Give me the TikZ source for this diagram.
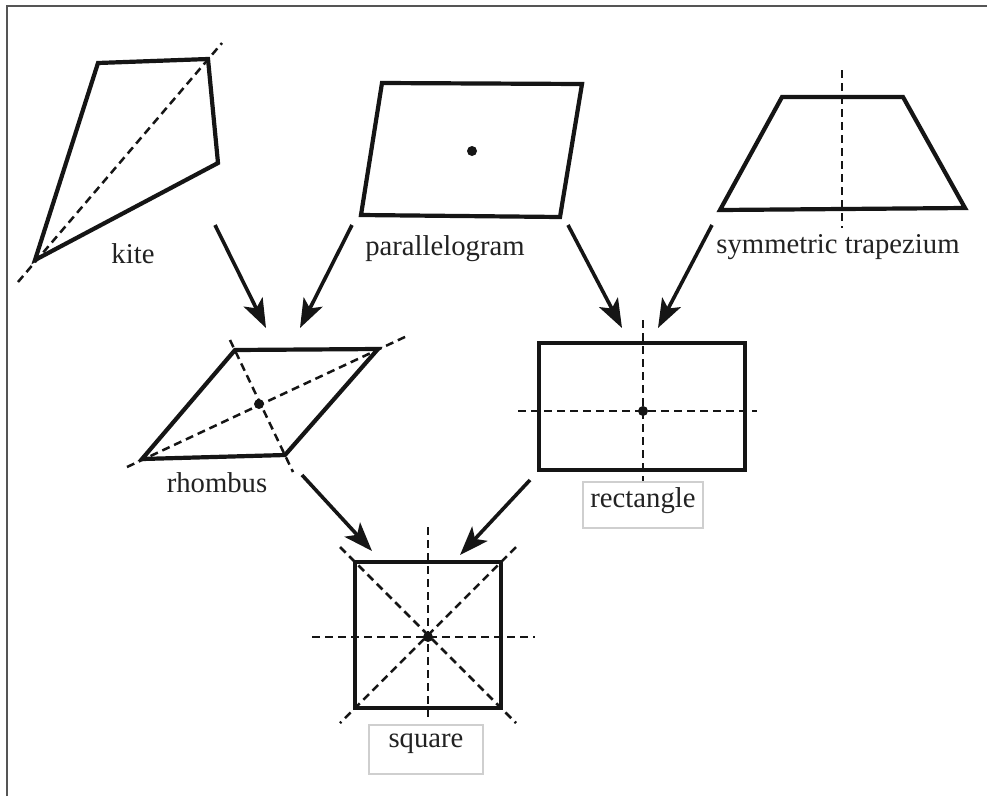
\documentclass[tikz,border=0pt]{standalone}
\usepackage{fontspec}
\setmainfont{Liberation Serif}
\usetikzlibrary{arrows.meta}
\definecolor{ink}{HTML}{151515}
\definecolor{txt}{HTML}{222222}
\definecolor{framegray}{HTML}{555555}
\definecolor{boxgray}{HTML}{CFCFCF}
\begin{document}
\begin{tikzpicture}[x=1pt,y=-1pt,
  figline/.style={line width=4.2pt, draw=ink, line join=miter},
  axisline/.style={line width=2.5pt, draw=ink, dash pattern=on 8pt off 5pt},
  conn/.style={line width=3.6pt, draw=ink, -{Stealth[length=29pt,width=21pt,inset=7pt]}},
  lbl/.style={font=\fontsize{28.7}{31}\selectfont, text=txt, inner sep=0pt, anchor=base},
  lblbox/.style={font=\fontsize{28.7}{31}\selectfont, text=txt, draw=boxgray, line width=1.5pt, inner sep=0pt},
  cdot/.style={circle, fill=ink, inner sep=0pt, minimum size=10pt}
]
\useasboundingbox (0,0) rectangle (987,796);
\fill[white] (0,0) rectangle (987,796);
% frame (left and top edges)
\draw[framegray, line width=2pt] (7,796) -- (7,6) -- (987,6);

% ---------- kite ----------
\draw[axisline] (18,282) -- (222,43);
\draw[figline] (98,63) -- (208,59) -- (218,163) -- (35,260) -- cycle;
\node[lbl] (kitelbl) at (133,263) {kite};

% ---------- parallelogram ----------
\draw[figline] (382,83) -- (582,84) -- (560,217) -- (361,215) -- cycle;
\node[cdot] (pdot) at (472,151) {};
\node[lbl] (paralbl) at (445,255) {parallelogram};

% ---------- symmetric trapezium ----------
\draw[axisline] (842,70) -- (842,228);
\draw[figline] (782,97) -- (903,97) -- (965,208) -- (720,210) -- cycle;
\node[lbl] (traplbl) at (838,253) {symmetric trapezium};

% ---------- rhombus ----------
\draw[axisline] (127,467) -- (407,336);
\draw[axisline] (230,340) -- (293,472);
\draw[figline] (235,350) -- (378,349) -- (285,455) -- (142,459) -- cycle;
\node[cdot] (rdot) at (259,404) {};
\node[lbl] (rholbl) at (217,492) {rhombus};

% ---------- rectangle ----------
\draw[axisline] (643,320) -- (643,482);
\draw[axisline] (518,411) -- (757,411);
\draw[figline] (539,343) rectangle (745,470);
\node[cdot] (rectdot) at (643,411) {};
\node[lblbox, minimum width=120pt, minimum height=46pt, text height=12pt, text depth=8pt] (rectlbl) at (643,505) {rectangle};

% ---------- square ----------
\draw[axisline] (428,527) -- (428,717);
\draw[axisline] (312,637) -- (535,637);
\draw[axisline] (340,547) -- (516,723);
\draw[axisline] (516,547) -- (340,723);
\draw[figline] (355,562) rectangle (501,708);
\node[cdot] (sqdot) at (428,637) {};
\node[lblbox, minimum width=114pt, minimum height=49pt, text height=8pt, text depth=13pt] (sqlbl) at (426,749.5) {square};

% ---------- connector end points ----------
\coordinate (kiteOut) at (215,225);
\coordinate (paraOutL) at (352,225);
\coordinate (paraOutR) at (568,225);
\coordinate (trapOut) at (712,225);
\coordinate (rhoInL) at (266,328);
\coordinate (rhoInR) at (300,328);
\coordinate (rectInL) at (622,328);
\coordinate (rectInR) at (658,328);
\coordinate (rhoOut) at (302,475);
\coordinate (rectOut) at (530,480);
\coordinate (sqInL) at (372,551);
\coordinate (sqInR) at (460,555);

\draw[conn] (kiteOut) -- (rhoInL);
\draw[conn] (paraOutL) -- (rhoInR);
\draw[conn] (paraOutR) -- (rectInL);
\draw[conn] (trapOut) -- (rectInR);
\draw[conn] (rhoOut) -- (sqInL);
\draw[conn] (rectOut) -- (sqInR);
\end{tikzpicture}
\end{document}
